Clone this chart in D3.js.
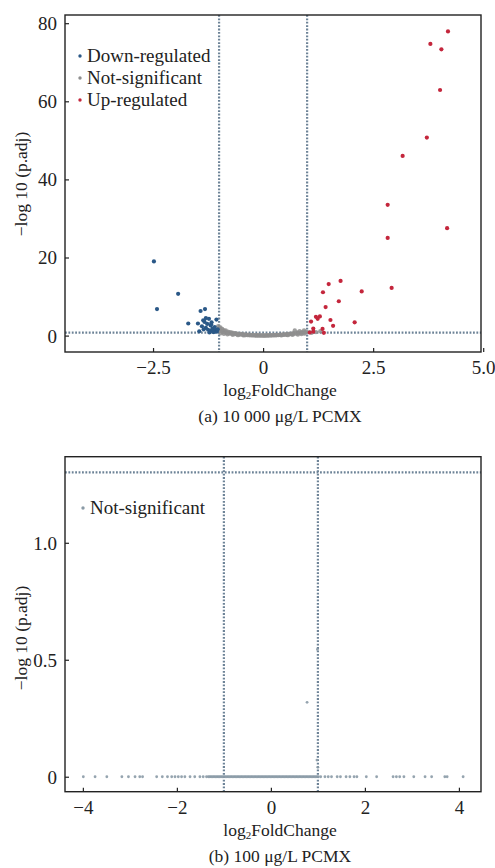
<!DOCTYPE html>
<html>
<head>
<meta charset="utf-8">
<script src="https://cdn.jsdelivr.net/npm/d3@7"></script>
<style>
  html, body { margin: 0; padding: 0; background: #fff; }
  svg { display: block; }
  text { font-family: "Liberation Serif", "Times New Roman", serif; fill: #222; }
</style>
</head>
<body>
<svg id="chart" width="495" height="868"></svg>
<script>
// ---------------- DATA ----------------
// Panel (a): 10 000 μg/L PCMX  — [log2FoldChange, -log10(p.adj)]
const downA = [
  [-2.48, 19.0], [-2.41, 6.8], [-1.93, 10.7], [-1.70, 3.1], [-1.48, 3.1],
  [-1.42, 6.3], [-1.32, 6.8], [-1.30, 4.5], [-1.23, 4.3], [-1.36, 3.9],
  [-1.33, 3.5], [-1.39, 2.4], [-1.19, 2.6], [-1.06, 4.1], [-1.45, 1.1],
  [-1.30, 2.0], [-1.25, 1.5], [-1.20, 1.2], [-1.15, 1.8], [-1.10, 2.2],
  [-1.08, 1.4], [-1.05, 1.0], [-1.12, 0.9], [-1.18, 2.9], [-1.27, 3.0],
  [-1.22, 0.8], [-1.03, 1.6], [-1.14, 1.1], [-1.35, 1.6], [-1.17, 3.4]
];
const notSigA = [
  [-1.02, 2.4], [-1.00, 1.9], [-0.98, 1.5], [-0.97, 2.1], [-0.95, 1.2], [-0.93, 1.7],
  [-0.92, 0.9], [-0.90, 1.4], [-0.88, 1.1], [-0.86, 0.8], [-0.85, 1.3], [-0.83, 0.7],
  [-0.80, 1.0], [-0.78, 0.6], [-0.76, 0.9], [-0.74, 0.5], [-0.72, 0.8], [-0.70, 0.45],
  [-0.68, 0.7], [-0.65, 0.4], [-0.63, 0.6], [-0.60, 0.35], [-0.58, 0.5], [-0.55, 0.3],
  [-0.52, 0.45], [-0.50, 0.25], [-0.47, 0.35], [-0.45, 0.2], [-0.42, 0.3], [-0.40, 0.15],
  [-0.37, 0.25], [-0.35, 0.12], [-0.32, 0.2], [-0.30, 0.1], [-0.27, 0.15], [-0.25, 0.08],
  [-0.22, 0.12], [-0.20, 0.05], [-0.17, 0.1], [-0.15, 0.04], [-0.12, 0.08], [-0.10, 0.03],
  [-0.07, 0.06], [-0.05, 0.02], [-0.02, 0.05], [0.00, 0.02], [0.03, 0.04], [0.05, 0.03],
  [0.08, 0.06], [0.10, 0.04], [0.13, 0.08], [0.15, 0.05], [0.18, 0.1], [0.20, 0.07],
  [0.23, 0.12], [0.25, 0.09], [0.28, 0.15], [0.30, 0.1], [0.33, 0.18], [0.35, 0.13],
  [0.38, 0.22], [0.40, 0.16], [0.43, 0.25], [0.45, 0.2], [0.48, 0.3], [0.50, 0.24],
  [0.53, 0.35], [0.55, 0.28], [0.58, 0.4], [0.60, 0.33], [0.63, 0.5], [0.65, 0.38],
  [0.68, 0.6], [0.70, 0.45], [0.72, 1.3], [0.75, 0.55], [0.78, 0.8], [0.80, 0.6],
  [0.83, 1.1], [0.85, 0.7], [0.88, 0.9], [0.90, 0.75], [0.93, 1.3], [0.95, 0.85],
  [0.98, 1.0], [1.05, 0.9], [1.10, 0.7], [1.20, 0.9], [1.30, 1.1],
  [-0.96, 0.6], [-0.89, 0.45], [-0.81, 0.35], [-0.69, 0.2], [-0.57, 0.12], [-0.44, 0.05],
  [0.42, 0.06], [0.56, 0.12], [0.67, 0.2], [0.79, 0.3], [0.87, 0.4], [0.94, 0.5]
];
const upA = [
  [4.20, 77.9], [3.80, 74.7], [4.05, 73.3], [4.02, 62.9], [3.72, 50.7], [3.17, 46.0],
  [2.83, 33.5], [2.83, 25.0], [4.18, 27.5], [2.92, 12.2], [2.24, 11.3], [1.76, 14.0],
  [1.49, 13.2], [1.36, 11.1], [1.72, 8.8], [1.42, 7.3], [1.09, 3.6], [1.20, 4.8],
  [1.29, 4.9], [1.24, 4.3], [1.53, 4.0], [1.59, 2.5], [2.08, 3.4], [1.14, 1.8],
  [1.14, 1.0], [1.35, 1.7], [1.38, 0.7], [1.06, 0.8]
];
const xTicksA = [-2.5, 0, 2.5, 5.0];
const xTickLabelsA = ["\u22122.5", "0", "2.5", "5.0"];
const yTicksA = [0, 20, 40, 60, 80];
const vLinesA = [-1, 1];
const hLineA = 0.75;
const legendA = ["Down-regulated", "Not-significant", "Up-regulated"];
const captionA = "(a) 10 000 \u03bcg/L PCMX";

// Panel (b): 100 μg/L PCMX — log2FoldChange of genes with -log10(p.adj) = 0
const notSigBx = [
  -3.99, -3.74, -3.49, -3.17, -3.03, -2.89, -2.79, -2.73, -2.43, -2.31, -2.20, -2.11,
  -2.04, -1.97, -1.90, -1.83, -1.72, -1.62, -1.51, -1.44, -1.37, -1.33, -1.30, -1.27,
  -1.24, -1.21, -1.18, -1.15, -1.12, -1.09, -1.06, -1.03, -1.00, -0.97, -0.94, -0.91,
  -0.88, -0.85, -0.82, -0.79, -0.76, -0.73, -0.70, -0.67, -0.64, -0.61, -0.58, -0.55,
  -0.52, -0.49, -0.46, -0.43, -0.40, -0.37, -0.34, -0.31, -0.28, -0.25, -0.22, -0.19,
  -0.16, -0.13, -0.10, -0.07, -0.04, -0.01, 0.02, 0.05, 0.08, 0.11, 0.14, 0.17, 0.20,
  0.23, 0.26, 0.29, 0.32, 0.35, 0.38, 0.41, 0.44, 0.47, 0.50, 0.53, 0.56, 0.59, 0.62,
  0.65, 0.68, 0.71, 0.74, 0.77, 0.80, 0.83, 0.86, 0.89, 0.92, 0.95, 0.98, 1.01,
  1.06, 1.15, 1.22, 1.29, 1.41, 1.48, 1.60, 1.68, 1.77, 1.83, 2.03, 2.25, 2.60, 2.67,
  2.74, 2.83, 3.04, 3.28, 3.42, 3.70, 3.75, 4.09
];
const notSigBy = notSigBx.map(() => 0);
const notSigBExtra = [[0.77, 0.318], [0.99, 0.544], [0.98, 0.071], [1.0, 0.04]];
const xTicksB = [-4, -2, 0, 2, 4];
const yTicksB = [0, 0.5, 1.0];
const yTickLabelsB = ["0", "0.5", "1.0"];
const vLinesB = [-1, 1];
const hLineB = 1.301;
const legendB = ["Not-significant"];
const captionB = "(b) 100 \u03bcg/L PCMX";

// ---------------- DRAWING ----------------
const svg = d3.select("#chart");
const COL_DOWN = "#2a5887", COL_NS = "#8e8e8e", COL_UP = "#c4263c", COL_NSB = "#8a9aa6";
const COL_DASH = "#6d8397";

function panel(opt) {
  const g = svg.append("g");
  const x = d3.scaleLinear().domain(opt.xDomain).range([opt.left, opt.right]);
  const y = d3.scaleLinear().domain(opt.yDomain).range([opt.bottom, opt.top]);

  // axes (inward ticks)
  const xAxis = d3.axisBottom(x).tickValues(opt.xTicks).tickSizeInner(-4).tickSizeOuter(0)
    .tickFormat((d, i) => opt.xLabels ? opt.xLabels[i] : d3.format("")(d).replace("-", "\u2212"));
  const yAxis = d3.axisLeft(y).tickValues(opt.yTicks).tickSizeInner(-4).tickSizeOuter(0)
    .tickFormat((d, i) => opt.yLabels ? opt.yLabels[i] : d3.format("")(d));
  const gx = g.append("g").attr("transform", `translate(0,${opt.bottom})`).call(xAxis);
  const gy = g.append("g").attr("transform", `translate(${opt.left},0)`).call(yAxis);
  [gx, gy].forEach(a => {
    a.attr("font-family", "Liberation Serif");
    a.select(".domain").remove();
    a.selectAll(".tick line").attr("stroke", "#222").attr("stroke-width", 1.2);
    a.selectAll(".tick text").attr("font-size", 19).attr("fill", "#222");
  });
  gx.selectAll(".tick text").attr("dy", null).attr("y", 22);
  gy.selectAll(".tick text").attr("x", -8).attr("dy", "0.34em");

  // threshold lines
  g.selectAll(".vl").data(opt.vLines).join("line")
    .attr("x1", d => x(d)).attr("x2", d => x(d)).attr("y1", opt.top).attr("y2", opt.bottom)
    .attr("stroke", COL_DASH).attr("stroke-width", 2.2).attr("stroke-dasharray", "1.8,1.6");
  g.append("line")
    .attr("x1", opt.left).attr("x2", opt.right).attr("y1", y(opt.hLine)).attr("y2", y(opt.hLine))
    .attr("stroke", COL_DASH).attr("stroke-width", 2.2).attr("stroke-dasharray", "1.8,1.6");

  // points
  opt.series.forEach(s => {
    g.append("g").selectAll("circle").data(s.data).join("circle")
      .attr("cx", d => x(d[0])).attr("cy", d => y(d[1])).attr("r", s.r)
      .attr("fill", s.color).attr("fill-opacity", s.opacity || 1);
  });

  // frame
  g.append("rect").attr("x", opt.left).attr("y", opt.top)
    .attr("width", opt.right - opt.left).attr("height", opt.bottom - opt.top)
    .attr("fill", "none").attr("stroke", "#222").attr("stroke-width", 1.4);

  // legend
  opt.legend.forEach((l, i) => {
    const ly = opt.legendY + i * 22;
    g.append("circle").attr("cx", opt.legendX).attr("cy", ly).attr("r", 1.7).attr("fill", opt.legendColors[i]);
    g.append("text").attr("x", opt.legendX + 7).attr("y", ly).attr("dy", "0.34em")
      .attr("font-size", 19).text(l);
  });

  // axis titles
  const xt = g.append("text").attr("x", (opt.left + opt.right) / 2 + 7).attr("y", opt.bottom + 44)
    .attr("text-anchor", "middle").attr("font-size", 17.5);
  xt.append("tspan").text("log");
  xt.append("tspan").attr("font-size", 11).attr("dy", 3).text("2");
  xt.append("tspan").attr("dy", -3).text("FoldChange");

  g.append("text").attr("transform", `translate(27,${opt.yTitleY}) rotate(-90)`)
    .attr("text-anchor", "middle").attr("font-size", 17.5).text("\u2212log 10 (p.adj)");

  g.append("text").attr("x", (opt.left + opt.right) / 2 + 7).attr("y", opt.bottom + 70)
    .attr("text-anchor", "middle").attr("font-size", 17.5).text(opt.caption);
}

panel({
  left: 65, right: 481, top: 15, bottom: 352,
  xDomain: [-4.5, 4.95], yDomain: [-4.2, 82.1],
  xTicks: xTicksA, xLabels: xTickLabelsA, yTicks: yTicksA,
  vLines: vLinesA, hLine: hLineA,
  series: [
    { data: notSigA, color: COL_NS, r: 2.2, opacity: 0.85 },
    { data: downA, color: COL_DOWN, r: 2.1 },
    { data: upA, color: COL_UP, r: 2.1 }
  ],
  legend: legendA, legendColors: [COL_DOWN, COL_NS, COL_UP], legendX: 80, legendY: 56,
  caption: captionA, yTitleY: 184
});

panel({
  left: 65, right: 481, top: 456.7, bottom: 791.7,
  xDomain: [-4.38, 4.47], yDomain: [-0.064, 1.368],
  xTicks: xTicksB, yTicks: yTicksB, yLabels: yTickLabelsB,
  vLines: vLinesB, hLine: hLineB,
  series: [
    { data: notSigBx.map((v, i) => [v, notSigBy[i]]), color: COL_NSB, r: 1.4, opacity: 0.9 },
    { data: notSigBExtra, color: COL_NSB, r: 1.4, opacity: 0.9 }
  ],
  legend: legendB, legendColors: [COL_NSB], legendX: 83, legendY: 508,
  caption: captionB, yTitleY: 638
});
</script>
</body>
</html>
